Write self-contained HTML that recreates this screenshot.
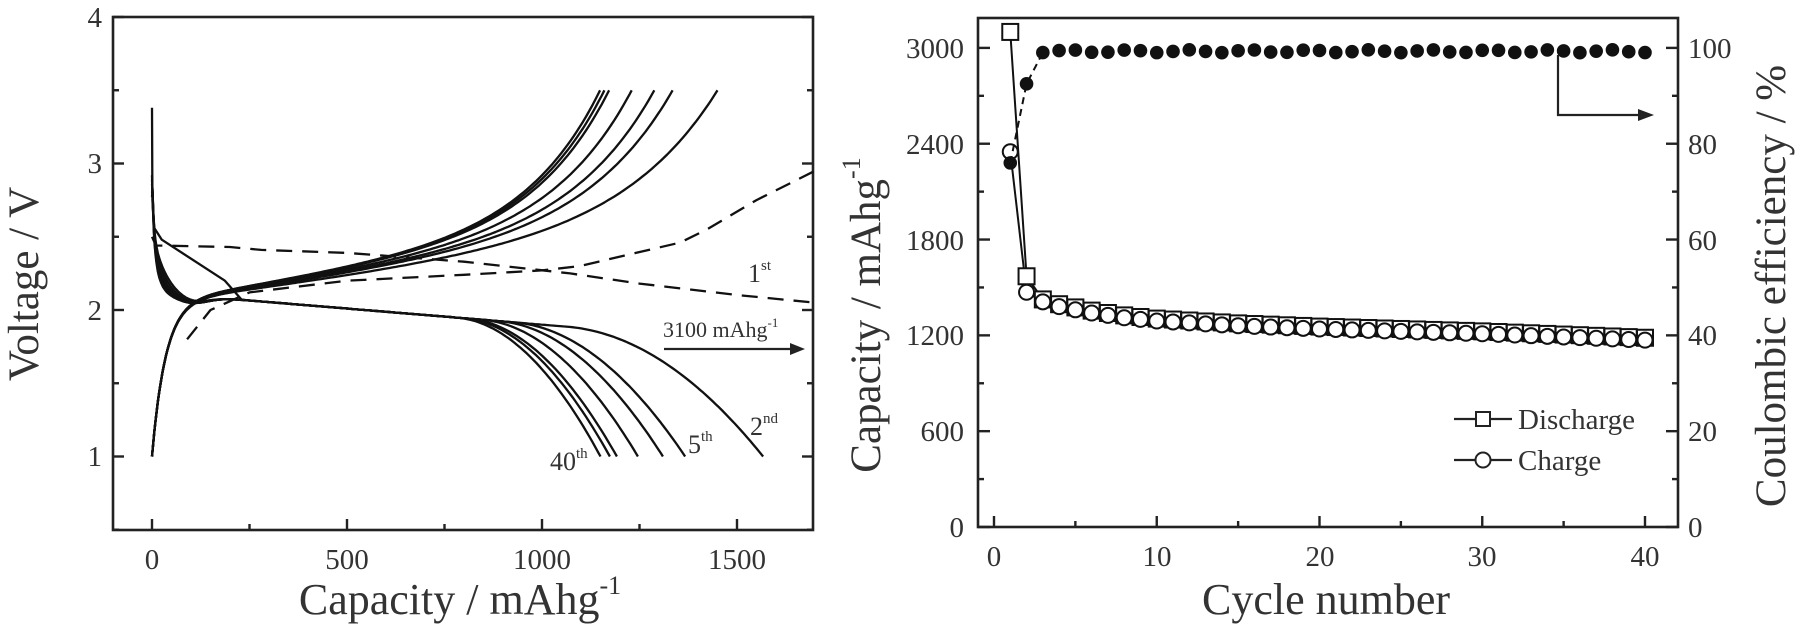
<!DOCTYPE html>
<html><head><meta charset="utf-8">
<style>
html,body{margin:0;padding:0;background:#fff;}
svg{display:block;}
text{font-family:"Liberation Serif",serif;fill:#333;}
</style></head>
<body>
<svg id="s" width="1800" height="635" viewBox="0 0 1800 635" xmlns="http://www.w3.org/2000/svg">
<rect x="113" y="17" width="700" height="513" fill="none" stroke="#222" stroke-width="2.6"/>
<g id="L"></g>
<g font-size="29" text-anchor="middle">
<text x="152" y="569">0</text><text x="347" y="569">500</text><text x="542" y="569">1000</text><text x="737" y="569">1500</text>
</g>
<g font-size="29" text-anchor="end">
<text x="102" y="27">4</text><text x="102" y="173">3</text><text x="102" y="320">2</text><text x="102" y="466">1</text>
</g>
<text x="460" y="614" font-size="44" text-anchor="middle">Capacity / mAhg<tspan font-size="26" dy="-20">-1</tspan></text>
<text transform="translate(38,284) rotate(-90)" font-size="43" text-anchor="middle">Voltage / V</text>
<text x="748" y="282" font-size="26">1<tspan font-size="15" dy="-12">st</tspan></text>
<text x="663" y="337" font-size="22">3100 mAhg<tspan font-size="13" dy="-10">-1</tspan></text>
<line x1="664" y1="349" x2="795" y2="349" stroke="#222" stroke-width="2.2"/>
<polygon points="805,349 790,343 790,355" fill="#222"/>
<text x="750" y="435" font-size="26">2<tspan font-size="15" dy="-12">nd</tspan></text>
<text x="688" y="453" font-size="26">5<tspan font-size="15" dy="-12">th</tspan></text>
<text x="550" y="470" font-size="26">40<tspan font-size="15" dy="-12">th</tspan></text>

<rect x="978" y="18" width="700" height="509" fill="none" stroke="#222" stroke-width="2.6"/>
<g id="R"></g>
<g font-size="29" text-anchor="middle">
<text x="994" y="566">0</text><text x="1157" y="566">10</text><text x="1320" y="566">20</text><text x="1482" y="566">30</text><text x="1645" y="566">40</text>
</g>
<g font-size="29" text-anchor="end">
<text x="964" y="537">0</text><text x="964" y="441">600</text><text x="964" y="345">1200</text><text x="964" y="250">1800</text><text x="964" y="154">2400</text><text x="964" y="58">3000</text>
</g>
<g font-size="29" text-anchor="start">
<text x="1688" y="537">0</text><text x="1688" y="441">20</text><text x="1688" y="345">40</text><text x="1688" y="250">60</text><text x="1688" y="154">80</text><text x="1688" y="58">100</text>
</g>
<text x="1326" y="614" font-size="44" text-anchor="middle">Cycle number</text>
<text transform="translate(880,315) rotate(-90)" font-size="43" text-anchor="middle">Capacity / mAhg<tspan font-size="26" dy="-20">-1</tspan></text>
<text transform="translate(1785,286) rotate(-90)" font-size="43" text-anchor="middle">Coulombic efficiency / %</text>
<polyline points="1558,55 1558,115 1640,115" fill="none" stroke="#222" stroke-width="2.2"/>
<polygon points="1654,115 1638,109 1638,121" fill="#222"/>
<line x1="1454" y1="419" x2="1512" y2="419" stroke="#222" stroke-width="2.2"/>
<rect x="1476" y="412" width="14" height="14" fill="#fff" stroke="#222" stroke-width="2"/>
<text x="1518" y="429" font-size="29">Discharge</text>
<line x1="1454" y1="460" x2="1512" y2="460" stroke="#222" stroke-width="2.2"/>
<circle cx="1483" cy="460" r="7.5" fill="#fff" stroke="#222" stroke-width="2"/>
<text x="1518" y="470" font-size="29">Charge</text>
</svg>
<script>
(function(){
var NS="http://www.w3.org/2000/svg";
function el(p,n,a){var e=document.createElementNS(NS,n);for(var k in a)e.setAttribute(k,a[k]);p.appendChild(e);return e;}
var L=document.getElementById("L"),R=document.getElementById("R");
function X(c){return 152+0.39*c;}function Y(v){return 17+(4-v)*146.5;}
function path(pts,dash){var d="M"+pts.map(function(p){return X(p[0]).toFixed(1)+","+Y(p[1]).toFixed(1);}).join("L");
 var a={d:d,fill:"none",stroke:"#111","stroke-width":2.3,"stroke-linejoin":"round"};if(dash)a["stroke-dasharray"]=dash;el(L,"path",a);}
for(var c=0;c<=1700;c+=250){var big=c%500==0;el(L,"line",{x1:X(c),x2:X(c),y1:530,y2:530-(big?11:6),stroke:"#222","stroke-width":2.4});}
for(var v=0.5;v<=4;v+=0.5){var big=v%1==0;el(L,"line",{x1:113,x2:113+(big?11:6),y1:Y(v),y2:Y(v),stroke:"#222","stroke-width":2.4});
 el(L,"line",{x1:813,x2:813-(big?11:6),y1:Y(v),y2:Y(v),stroke:"#222","stroke-width":2.4});}
function Vp(c){return 2.12-0.22*c/1000;}
function dv(c,E){var t=c/E,f=t>0.68?Math.pow((t-0.68)/0.32,2):0;return Vp(c)-(Vp(E)-1)*f;}
var dE=[1567,1367,1310,1246,1192,1174,1150],taus=[0,34,28,23,19,16,14];
dE.forEach(function(E,i){var pts=[];
 if(i==0){pts=[[0,3.38],[1,2.75],[6,2.56],[25,2.48],[187,2.2]];
  for(var c=230;c<=E;c+=8){pts.push([c,dv(c,E)]);}}
 else{pts.push([0,2.95-i*0.03]);for(var c=1;c<=E;c+=(c<200?2:8)){pts.push([c,dv(c,E)+0.42*Math.exp(-c/taus[i])+0.4*Math.exp(-c/4)-0.05*Math.exp(-Math.pow((c-100)/60,2))]);}}
 pts.push([E,1.0]);path(pts);});
var cE=[1450,1335,1288,1230,1172,1160,1149];
cE.forEach(function(E){var pts=[];for(var c=0;c<=E;c+=(c<200?3:8)){var t=c/E;
 pts.push([c,1+1.05*(1-Math.exp(-c/35))+0.5*t+0.95*(Math.exp(6*t)-1)/(Math.exp(6)-1)]);}
 pts.push([E,3.5]);path(pts);});
path([[0,2.5],[10,2.44],[200,2.43],[280,2.41],[500,2.39],[800,2.33],[1072,2.25],[1250,2.18],[1508,2.1],[1700,2.05]],"16,10");
path([[90,1.8],[150,2.0],[250,2.12],[500,2.2],[800,2.24],[1000,2.27],[1097,2.3],[1225,2.38],[1354,2.46],[1423,2.55],[1550,2.75],[1700,2.95]],"16,10");
function cx(n){return 994+16.275*n;}function cy(q){return 527-q*0.1597;}
for(var n=0;n<=40;n+=5){var big=n%10==0;el(R,"line",{x1:cx(n),x2:cx(n),y1:527,y2:527-(big?11:6),stroke:"#222","stroke-width":2.4});}
for(var q=0;q<=3000;q+=300){var big=q%600==0;el(R,"line",{x1:978,x2:978+(big?12:6),y1:cy(q),y2:cy(q),stroke:"#222","stroke-width":2.4});
 el(R,"line",{x1:1678,x2:1678-(big?12:6),y1:cy(q),y2:cy(q),stroke:"#222","stroke-width":2.4});}
var tb=[[2,1470],[3,1410],[4,1380],[5,1360],[6,1340],[8,1310],[10,1290],[15,1260],[20,1240],[30,1210],[40,1170]];
function ch(n){if(n==1)return 2350;for(var i=0;i<tb.length-1;i++){if(n>=tb[i][0]&&n<=tb[i+1][0]){var a=tb[i],b=tb[i+1];return a[1]+(b[1]-a[1])*(n-a[0])/(b[0]-a[0]);}}return 1170;}
function dc(n){return n==1?3100:n==2?1570:ch(n)+15;}
var dp=[],cp=[];
for(var n=1;n<=40;n++){dp.push(cx(n)+","+cy(dc(n)).toFixed(1));cp.push(cx(n)+","+cy(ch(n)).toFixed(1));}
el(R,"polyline",{points:dp.join(" "),fill:"none",stroke:"#111","stroke-width":2});
el(R,"polyline",{points:cp.join(" "),fill:"none",stroke:"#111","stroke-width":2});
for(var n=1;n<=40;n++)el(R,"rect",{x:cx(n)-8,y:cy(dc(n))-8,width:16,height:16,fill:"#fff",stroke:"#111","stroke-width":2});
for(var n=1;n<=40;n++)el(R,"circle",{cx:cx(n),cy:cy(ch(n)),r:7.5,fill:"#fff",stroke:"#111","stroke-width":2});
function ce(n){return n==1?76:n==2?92.5:99.3+0.3*Math.sin(n*1.7);}
el(R,"polyline",{points:[1,2,3].map(function(n){return cx(n)+","+cy(ce(n)*30);}).join(" "),fill:"none",stroke:"#111","stroke-width":2,"stroke-dasharray":"7,5"});
for(var n=1;n<=40;n++)el(R,"circle",{cx:cx(n),cy:cy(ce(n)*30),r:6.8,fill:"#111"});
})();
</script>
</body></html>
